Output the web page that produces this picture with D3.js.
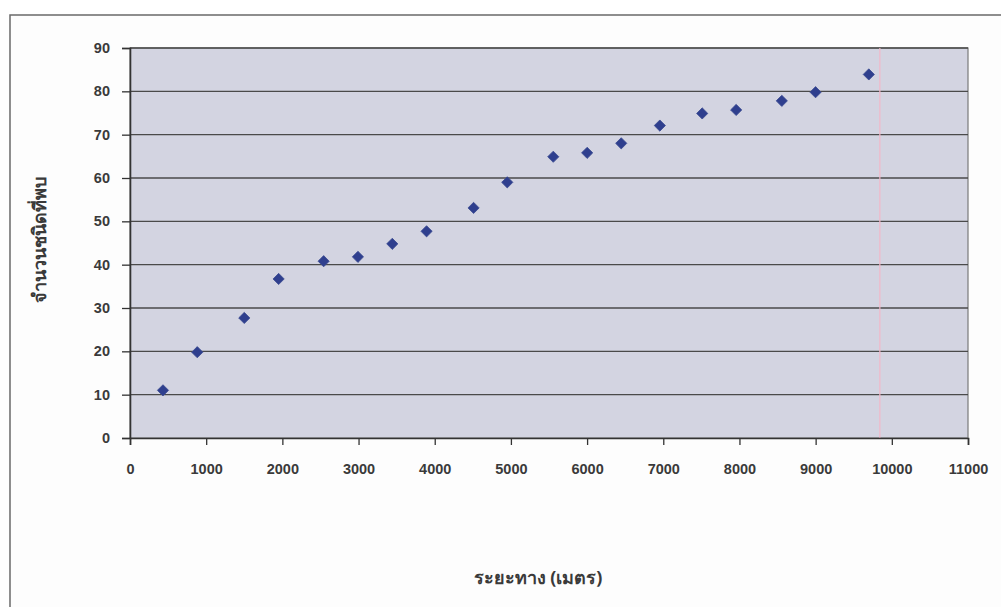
<!DOCTYPE html>
<html><head><meta charset="utf-8">
<script src="https://cdn.jsdelivr.net/npm/d3@7"></script>
<style>body{margin:0;background:#fff}svg{display:block}</style>
</head><body>
<svg id="c" width="1001" height="607"></svg>
<script>
const distance = [433, 883, 1500, 1951, 2542, 2992, 3443, 3893, 4510, 4952, 5556, 6001, 6448, 6955, 7511, 7957, 8556, 8999, 9698];
const species  = [11.0, 19.8, 27.7, 36.7, 40.8, 41.8, 44.8, 47.7, 53.1, 59.0, 64.9, 65.8, 68.0, 72.1, 74.9, 75.7, 77.8, 79.8, 83.9];
const xTicks = [0,1000,2000,3000,4000,5000,6000,7000,8000,9000,10000,11000];
const yTicks = [0,10,20,30,40,50,60,70,80,90];
const xTitle = "ระยะทาง (เมตร)";
const yTitle = "จำนวนชนิดที่พบ";

const svg = d3.select("#c");
const L=130,R=968,T=48,B=438;
const x = d3.scaleLinear().domain([0,11000]).range([L,R]);
const y = d3.scaleLinear().domain([0,90]).range([B,T]);

// outer frame
svg.append("rect").attr("x",10).attr("y",15).attr("width",1010).attr("height",620)
  .attr("fill","#fdfdfd").attr("stroke","#6a6a6a").attr("stroke-width",1.5);

// plot background
svg.append("rect").attr("x",L).attr("y",T).attr("width",R-L).attr("height",B-T)
  .attr("fill","#d3d4e1").attr("stroke","#7a7a7a").attr("stroke-width",1.2);

// gridlines
svg.append("g").selectAll("line").data(yTicks.filter(d=>d>0)).join("line")
  .attr("x1",L).attr("x2",R).attr("y1",d=>y(d)).attr("y2",d=>y(d))
  .attr("stroke","#4a4a4a").attr("stroke-width",1.4);

// pink artifact line
svg.append("line").attr("x1",x(9843)).attr("x2",x(9843)).attr("y1",T).attr("y2",B)
  .attr("stroke","#f2b8c8").attr("stroke-width",1.2);

// axes
const xa = svg.append("g").attr("transform",`translate(0,${B})`)
  .call(d3.axisBottom(x).tickValues(xTicks).tickFormat(d=>d).tickSize(7).tickPadding(19));
const ya = svg.append("g").attr("transform",`translate(${L},0)`)
  .call(d3.axisLeft(y).tickValues(yTicks).tickFormat(d=>d).tickSize(8).tickPadding(12));
[xa,ya].forEach(a=>{
  a.select(".domain").attr("stroke","#333").attr("stroke-width",1.6);
  a.selectAll(".tick line").attr("stroke","#333").attr("stroke-width",1.3);
  a.selectAll("text").attr("font-family","Liberation Sans, Arial, sans-serif")
   .attr("font-size",14.5).attr("font-weight","bold").attr("fill","#3a3a3a");
});

// points
svg.append("g").selectAll("path").data(distance.map((d,i)=>[d,species[i]])).join("path")
  .attr("d",d3.symbol(d3.symbolDiamond2,80))
  .attr("transform",d=>`translate(${x(d[0])},${y(d[1])})`)
  .attr("fill","#2f3f8e").attr("stroke","#3a4a90").attr("stroke-width",0.8);

// titles
svg.append("text").attr("x",538).attr("y",584).attr("text-anchor","middle")
  .attr("font-family","Noto Sans, DejaVu Sans, sans-serif").attr("font-size",18).attr("font-weight","bold")
  .attr("fill","#3a3a3a").text(xTitle);
svg.append("text").attr("transform","translate(46,240) rotate(-90)").attr("text-anchor","middle")
  .attr("font-family","Noto Sans, DejaVu Sans, sans-serif").attr("font-size",18).attr("font-weight","bold")
  .attr("fill","#3a3a3a").text(yTitle);
</script>
</body></html>
